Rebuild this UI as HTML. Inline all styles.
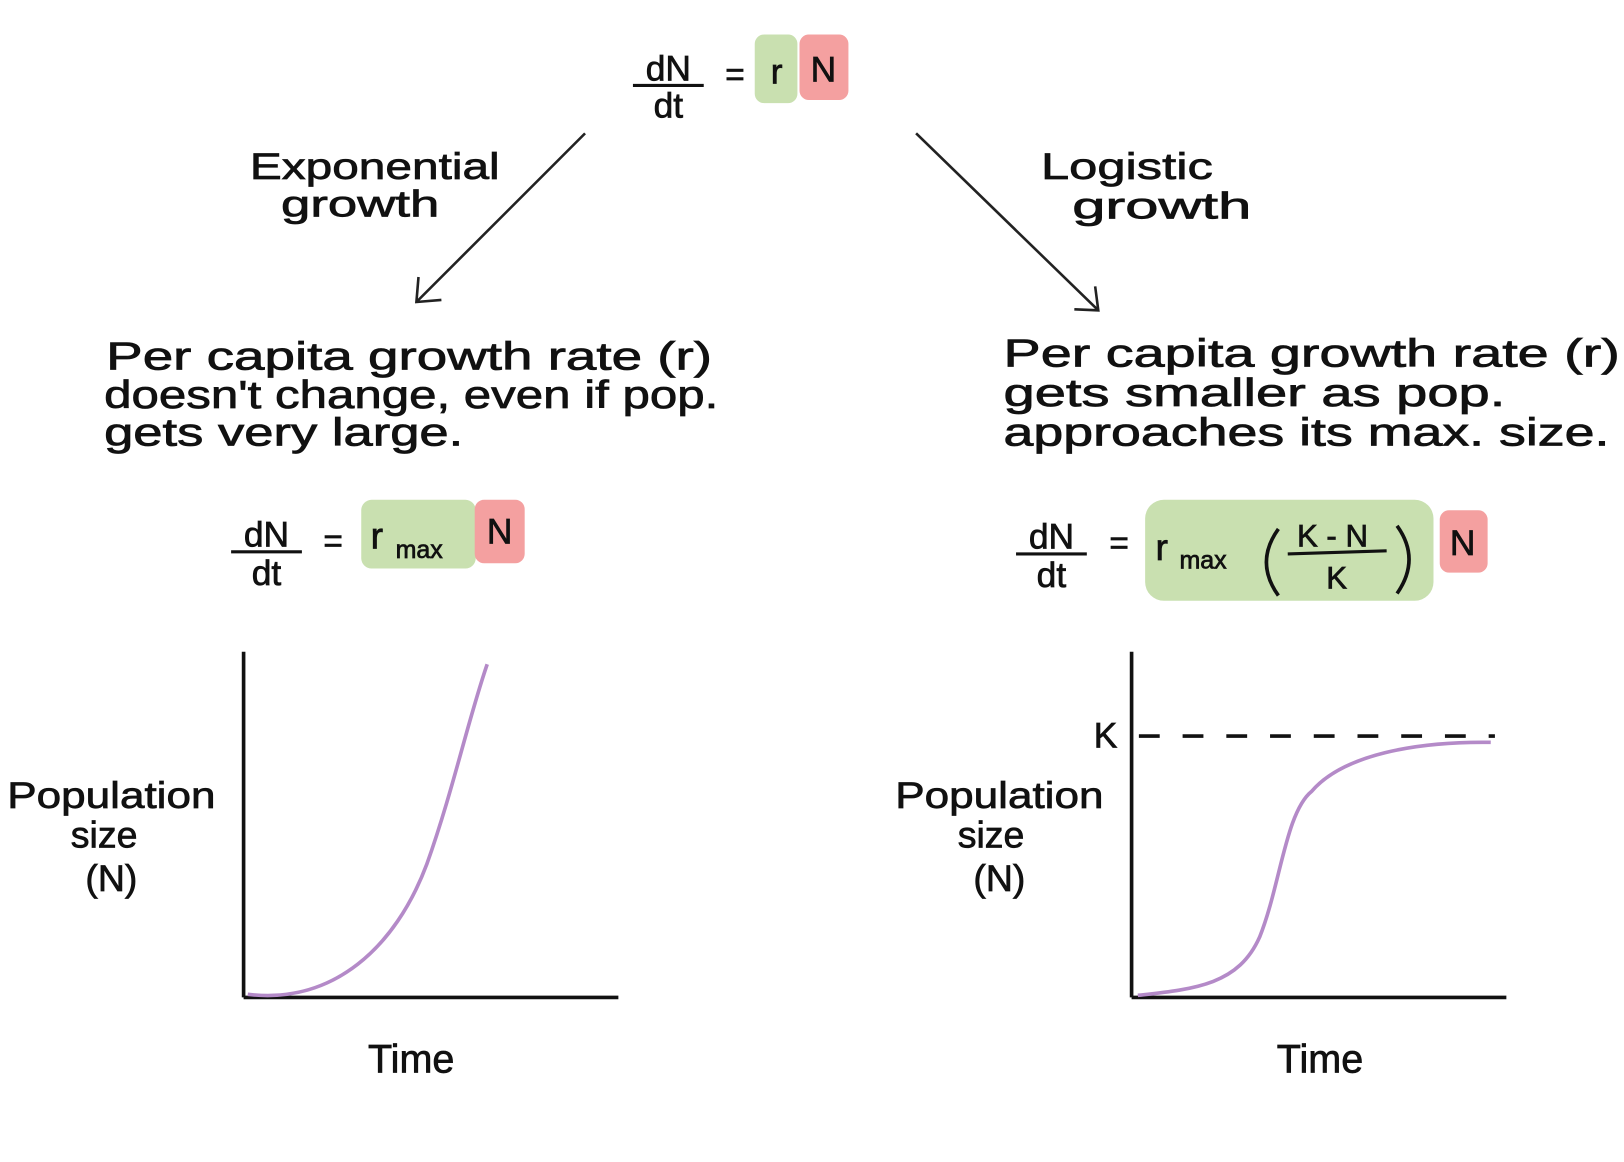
<!DOCTYPE html>
<html><head><meta charset="utf-8"><style>
html,body{margin:0;padding:0;background:#fff;}
svg{display:block;}
text{font-family:"Liberation Sans",sans-serif;fill:#111;stroke:#111;stroke-width:0.7;}
</style></head><body>
<svg width="1624" height="1162" viewBox="0 0 1560 1116" xmlns="http://www.w3.org/2000/svg">
<!-- top equation -->
<text x="642" y="77" font-size="34" text-anchor="middle">dN</text>
<line x1="608" y1="82" x2="676" y2="82" stroke="#111" stroke-width="3"/>
<text x="642" y="113" font-size="34" text-anchor="middle">dt</text>
<text x="706" y="82" font-size="32" text-anchor="middle">=</text>
<rect x="725" y="33" width="41" height="66" rx="9" fill="#c9e0b0"/>
<rect x="768" y="33" width="47" height="63" rx="9" fill="#f4a0a0"/>
<text x="746" y="80" font-size="34" text-anchor="middle">r</text>
<text x="791" y="78" font-size="34" text-anchor="middle">N</text>
<!-- arrows -->
<line x1="562" y1="128" x2="400" y2="290" stroke="#222" stroke-width="2.5"/>
<polyline points="402,266 400,290 424,288" fill="none" stroke="#222" stroke-width="2.5"/>
<line x1="880" y1="128" x2="1055" y2="298" stroke="#222" stroke-width="2.5"/>
<polyline points="1052,275 1055,298 1032,297" fill="none" stroke="#222" stroke-width="2.5"/>
<!-- labels -->
<text x="240" y="172" font-size="36" textLength="240" lengthAdjust="spacingAndGlyphs">Exponential</text>
<text x="270" y="208" font-size="36" textLength="152" lengthAdjust="spacingAndGlyphs">growth</text>
<text x="1000" y="172" font-size="36" textLength="165" lengthAdjust="spacingAndGlyphs">Logistic</text>
<text x="1030" y="210" font-size="36" textLength="172" lengthAdjust="spacingAndGlyphs">growth</text>
<!-- paragraphs -->
<text x="102" y="355" font-size="37" textLength="582" lengthAdjust="spacingAndGlyphs">Per capita growth rate (r)</text>
<text x="100" y="392" font-size="37" textLength="590" lengthAdjust="spacingAndGlyphs">doesn't change, even if pop.</text>
<text x="100" y="428" font-size="37" textLength="345" lengthAdjust="spacingAndGlyphs">gets very large.</text>
<text x="964" y="352" font-size="37" textLength="592" lengthAdjust="spacingAndGlyphs">Per capita growth rate (r)</text>
<text x="964" y="390" font-size="37" textLength="482" lengthAdjust="spacingAndGlyphs">gets smaller as pop.</text>
<text x="964" y="428" font-size="37" textLength="582" lengthAdjust="spacingAndGlyphs">approaches its max. size.</text>
<!-- left eq -->
<text x="256" y="525" font-size="34" text-anchor="middle">dN</text>
<line x1="222" y1="530" x2="290" y2="530" stroke="#111" stroke-width="3"/>
<text x="256" y="562" font-size="34" text-anchor="middle">dt</text>
<text x="320" y="530" font-size="32" text-anchor="middle">=</text>
<rect x="347" y="480" width="110" height="66" rx="10" fill="#c9e0b0"/>
<rect x="456" y="480" width="48" height="61" rx="9" fill="#f4a0a0"/>
<text x="356" y="527" font-size="36">r</text>
<text x="380" y="536" font-size="24">max</text>
<text x="480" y="522" font-size="34" text-anchor="middle">N</text>
<!-- right eq -->
<text x="1010" y="527" font-size="34" text-anchor="middle">dN</text>
<line x1="976" y1="532" x2="1044" y2="532" stroke="#111" stroke-width="3"/>
<text x="1010" y="564" font-size="34" text-anchor="middle">dt</text>
<text x="1075" y="532" font-size="32" text-anchor="middle">=</text>
<rect x="1100" y="480" width="277" height="97" rx="18" fill="#c9e0b0"/>
<rect x="1383" y="490" width="46" height="60" rx="9" fill="#f4a0a0"/>
<text x="1110" y="538" font-size="36">r</text>
<text x="1133" y="546" font-size="24">max</text>
<path d="M1228 508 Q1205 540 1228 572" fill="none" stroke="#111" stroke-width="3.5"/>
<path d="M1342 505 Q1365 537 1342 570" fill="none" stroke="#111" stroke-width="3.5"/>
<text x="1280" y="525" font-size="30" text-anchor="middle">K - N</text>
<line x1="1237" y1="532" x2="1332" y2="529" stroke="#111" stroke-width="3"/>
<text x="1284" y="565" font-size="30" text-anchor="middle">K</text>
<text x="1405" y="533" font-size="34" text-anchor="middle">N</text>
<!-- left chart -->
<line x1="234" y1="626" x2="234" y2="958" stroke="#111" stroke-width="3.5"/>
<line x1="234" y1="958" x2="594" y2="958" stroke="#111" stroke-width="3.5"/>
<path d="M238 955 C320 965 380 910 410 830 C435 760 450 690 468 638" fill="none" stroke="#b48ac8" stroke-width="3.5"/>
<text x="395" y="1030" font-size="38" text-anchor="middle">Time</text>
<text x="107" y="776" font-size="36" text-anchor="middle" textLength="200" lengthAdjust="spacingAndGlyphs">Population</text>
<text x="100" y="814" font-size="36" text-anchor="middle">size</text>
<text x="107" y="856" font-size="36" text-anchor="middle">(N)</text>
<!-- right chart -->
<line x1="1087" y1="626" x2="1087" y2="958" stroke="#111" stroke-width="3.5"/>
<line x1="1087" y1="958" x2="1447" y2="958" stroke="#111" stroke-width="3.5"/>
<line x1="1094" y1="707" x2="1436" y2="707" stroke="#111" stroke-width="3.5" stroke-dasharray="20,22"/>
<text x="1062" y="718" font-size="34" text-anchor="middle">K</text>
<path d="M1093 956 C1150 950 1190 945 1210 900 C1230 850 1235 780 1260 760 C1290 725 1360 712 1432 713" fill="none" stroke="#b48ac8" stroke-width="3.5"/>
<text x="1268" y="1030" font-size="38" text-anchor="middle">Time</text>
<text x="960" y="776" font-size="36" text-anchor="middle" textLength="200" lengthAdjust="spacingAndGlyphs">Population</text>
<text x="952" y="814" font-size="36" text-anchor="middle">size</text>
<text x="960" y="856" font-size="36" text-anchor="middle">(N)</text>
</svg>
</body></html>
